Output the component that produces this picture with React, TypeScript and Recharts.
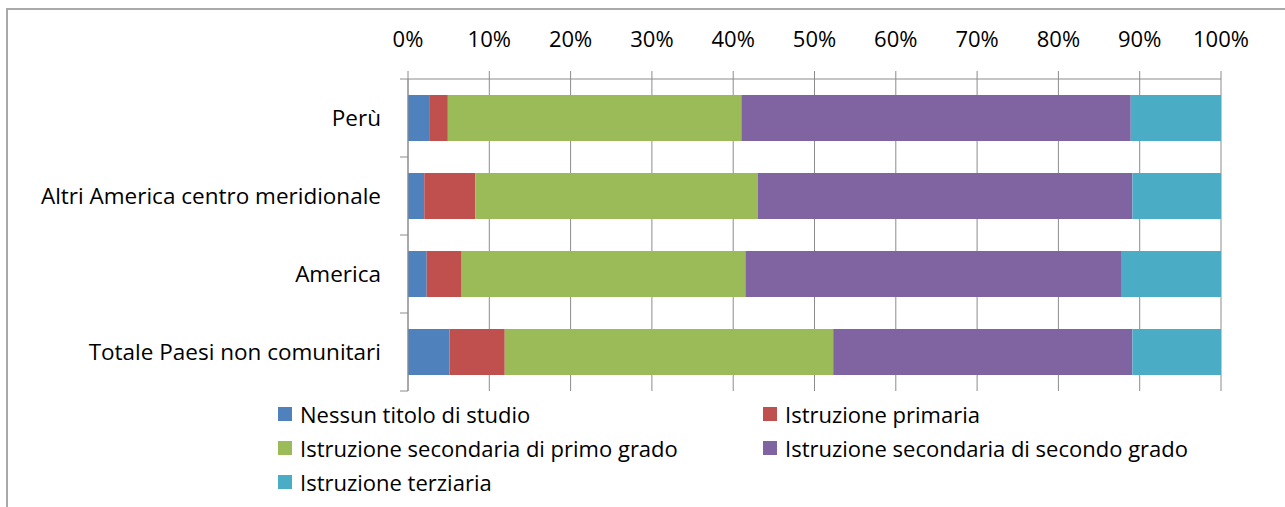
import { BarChart, Bar, XAxis, YAxis, CartesianGrid } from "recharts";

const categories = ["Perù", "Altri America centro meridionale", "America", "Totale Paesi non comunitari"];

const nessunTitolo = [2.6, 2.0, 2.3, 5.1];
const primaria = [2.3, 6.3, 4.3, 6.8];
const secondariaPrimo = [36.1, 34.7, 34.9, 40.4];
const secondariaSecondo = [47.9, 46.1, 46.2, 36.8];
const terziaria = [11.1, 10.9, 12.3, 10.9];

const xTicks = [0, 10, 20, 30, 40, 50, 60, 70, 80, 90, 100];

const series = [
  { key: "nessun", name: "Nessun titolo di studio", color: "#4F81BD", values: nessunTitolo },
  { key: "primaria", name: "Istruzione primaria", color: "#C0504D", values: primaria },
  { key: "sec1", name: "Istruzione secondaria di primo grado", color: "#9BBB59", values: secondariaPrimo },
  { key: "sec2", name: "Istruzione secondaria di secondo grado", color: "#8064A2", values: secondariaSecondo },
  { key: "terz", name: "Istruzione terziaria", color: "#4BACC6", values: terziaria },
];

const data = categories.map((name, i) => {
  const row: any = { name };
  series.forEach((s) => {
    row[s.key] = s.values[i];
  });
  return row;
});

const FONT = "'Open Sans', sans-serif";
const AXIS_COLOR = "#8c8c8c";
const Y_TICK_SIZE = 8;
const Y_TICK_MARGIN = 19;

// category labels in the middle, tick marks on the band edges (like Excel)
const CategoryTick = (props: any) => {
  const { x, y, payload, index } = props;
  const axisX = x + Y_TICK_MARGIN + Y_TICK_SIZE;
  const half = payload.offset || 0;
  return (
    <g>
      <line x1={axisX - Y_TICK_SIZE} x2={axisX} y1={y - half} y2={y - half} stroke={AXIS_COLOR} />
      {index === categories.length - 1 && (
        <line x1={axisX - Y_TICK_SIZE} x2={axisX} y1={y + half} y2={y + half} stroke={AXIS_COLOR} />
      )}
      <text x={x} y={y} dy="0.36em" textAnchor="end" fill="#000" fontSize={22.5} fontFamily={FONT}>
        {payload.value}
      </text>
    </g>
  );
};

export default function App() {
  return (
    <div style={{ position: "fixed", inset: 0, overflow: "hidden", background: "#fff" }}>
      <div
        style={{
          position: "absolute",
          left: 6,
          top: 8,
          width: 1320,
          height: 540,
          border: "2px solid #a9a9a9",
        }}
      />
      <div style={{ position: "absolute", left: 0, top: 0 }}>
        <BarChart
          width={1285}
          height={507}
          data={data}
          layout="vertical"
          barCategoryGap="20.5%"
          margin={{ top: 49, right: 64, left: 8, bottom: 116 }}
        >
          <CartesianGrid horizontal={false} stroke={AXIS_COLOR} />
          <XAxis
            type="number"
            orientation="top"
            domain={[0, 100]}
            ticks={xTicks}
            interval={0}
            height={30}
            tickSize={8}
            tickMargin={24}
            tickFormatter={(v) => `${v}%`}
            axisLine={{ stroke: AXIS_COLOR }}
            tickLine={{ stroke: AXIS_COLOR }}
            tick={{ fill: "#000", fontSize: 22, fontFamily: FONT }}
          />
          <YAxis
            type="category"
            dataKey="name"
            width={400}
            tickSize={Y_TICK_SIZE}
            tickMargin={Y_TICK_MARGIN}
            tickLine={false}
            axisLine={{ stroke: AXIS_COLOR }}
            tick={<CategoryTick />}
            interval={0}
          />
          {series.map((s) => (
            <Bar key={s.key} dataKey={s.key} name={s.name} stackId="a" fill={s.color} isAnimationActive={false} />
          ))}
        </BarChart>
      </div>
      <div
        style={{
          position: "absolute",
          left: 278,
          top: 397,
          display: "grid",
          gridTemplateColumns: "485px 485px",
          gridAutoRows: "34px",
          alignItems: "center",
          fontFamily: FONT,
          fontSize: 22,
          color: "#000",
        }}
      >
        {series.map((s) => (
          <div key={s.key} style={{ display: "flex", alignItems: "center", whiteSpace: "nowrap" }}>
            <span style={{ width: 14, height: 14, background: s.color, marginRight: 8, flex: "none" }} />
            <span>{s.name}</span>
          </div>
        ))}
      </div>
    </div>
  );
}
